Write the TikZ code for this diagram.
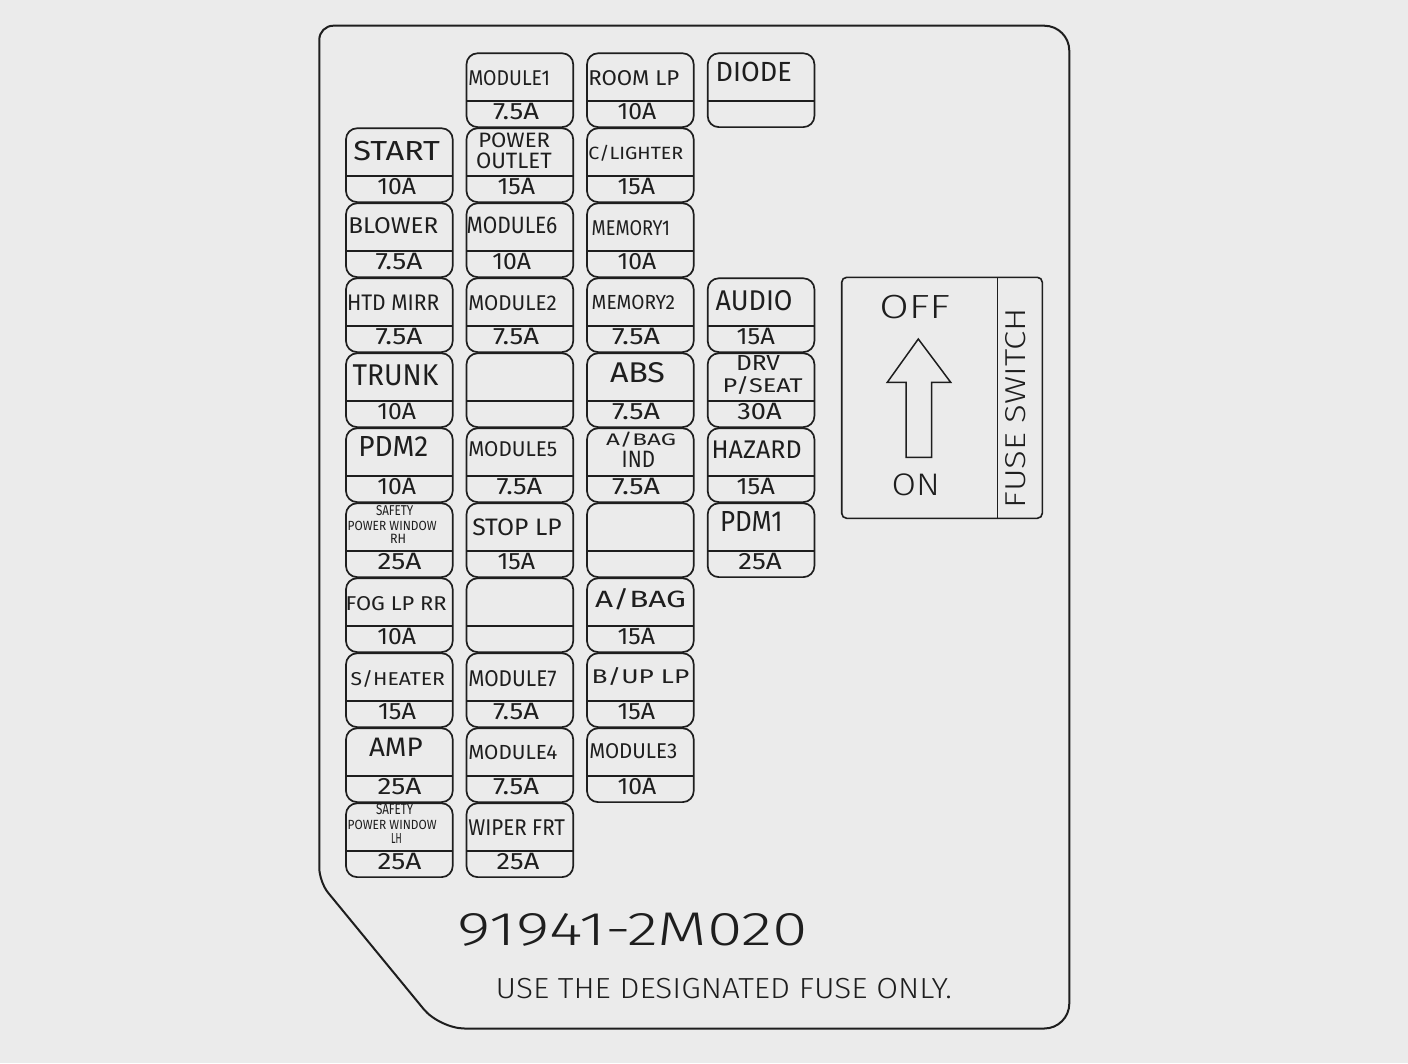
\documentclass[tikz,border=0pt]{standalone}
\usepackage{fontspec}
\usepackage{graphicx}
\IfFontExistsTF{Fira Sans Light}{\newfontfamily\bigfont{Fira Sans Light}}{\newfontfamily\bigfont{Liberation Sans}}
\IfFontExistsTF{Fira Sans}{\newfontfamily\labfont{Fira Sans}}{\newfontfamily\labfont{Liberation Sans}}
\definecolor{bg}{HTML}{EBEBEB}
\definecolor{ink}{HTML}{1E1E1E}
\tikzset{
  fusebox/.style={draw=ink, line width=1.7pt, rounded corners=11pt, minimum width=106.7pt, minimum height=73.8pt, inner sep=0pt, outer sep=0pt},
  divline/.style={draw=ink, line width=1.5pt},
  lbl/.style={inner sep=0pt, outer sep=0pt, anchor=base west, text=ink},
  panel/.style={draw=ink, line width=2pt},
  switchbox/.style={draw=ink, line width=1.6pt, rounded corners=5pt},
}
\newcommand\rz[3]{\resizebox{#1pt}{#2pt}{\raisebox{0pt}[\height][0pt]{\labfont #3}}}
\newcommand\rzb[3]{\resizebox{#1pt}{#2pt}{\raisebox{0pt}[\height][0pt]{\bigfont #3}}}
% name, xleft, xright, ytop, ybaseline, text
\newcommand\lab[6]{\node[lbl] (#1) at (#2,#5) {\rz{\fpeval{#3-#2}}{\fpeval{#5-#4}}{#6}};}
\newcommand\blab[6]{\node[lbl] (#1) at (#2,#5) {\rzb{\fpeval{#3-#2}}{\fpeval{#5-#4}}{#6}};}
% name, xleft, xright, rowtop, text
\newcommand\ampl[5]{\node[lbl] (#1) at (#2,#4+66.3) {\rz{\fpeval{#3-#2}}{16.3}{#5}};}
% name, xleft, rowtop
\newcommand\fuse[3]{\node[fusebox] (#1) at (#2+53.35,#3+36.9) {};
  \draw[divline] ([yshift=-47.5pt]#1.north west) -- ([yshift=-47.5pt]#1.north east);}
\begin{document}
\begin{tikzpicture}[x=1pt,y=-1pt]
\useasboundingbox (0,0) rectangle (1408,1063);
\fill[bg] (0,0) rectangle (1408,1063);
% panel outline
\draw[panel] (700,25.7) [rounded corners=25pt] -- (1069.3,25.7) -- (1069.3,1028.5) -- (439.6,1028.5)
  [rounded corners=14pt] -- (319.3,882) -- (319.3,25.7) [rounded corners=25pt] -- cycle;
% ---- fuse boxes ----
\def\Ca{346}\def\Cb{466.5}\def\Cc{587}\def\Cd{707.7}
\foreach \r/\t in {2/128.3,3/203.3,4/278.3,5/353.3,6/428.3,7/503.3,8/578.3,9/653.3,10/728.3,11/803.3}{\fuse{fa\r}{\Ca}{\t}}
\foreach \r/\t in {1/53.3,2/128.3,3/203.3,4/278.3,5/353.3,6/428.3,7/503.3,8/578.3,9/653.3,10/728.3,11/803.3}{\fuse{fb\r}{\Cb}{\t}}
\foreach \r/\t in {1/53.3,2/128.3,3/203.3,4/278.3,5/353.3,6/428.3,7/503.3,8/578.3,9/653.3,10/728.3}{\fuse{fc\r}{\Cc}{\t}}
\foreach \r/\t in {1/53.3,4/278.3,5/353.3,6/428.3,7/503.3}{\fuse{fd\r}{\Cd}{\t}}
% ---- column 1 labels ----
\lab{la2}{353.3}{440}{140.7}{160}{START}
\lab{la3}{348.3}{438.3}{217.3}{233.3}{BLOWER}
\lab{la4}{347}{439.3}{295}{310.5}{HTD MIRR}
\lab{la5}{352.7}{438.3}{364.3}{385}{TRUNK}
\lab{la6}{358.3}{428.3}{436.7}{456.7}{PDM2}
\lab{la7a}{376}{413.3}{505}{515}{SAFETY}
\lab{la7b}{347.7}{436.7}{520.7}{530}{POWER WINDOW}
\lab{la7c}{390}{406}{534}{543.3}{RH}
\lab{la8}{345.7}{446.7}{596}{610}{FOG LP RR}
\lab{la9}{350.7}{445}{670}{685}{S/HEATER}
\lab{la10}{369}{422.7}{738.3}{756.7}{AMP}
\lab{la11a}{376}{413.3}{803.3}{814}{SAFETY}
\lab{la11b}{347.7}{436.7}{820}{829.3}{POWER WINDOW}
\lab{la11c}{391}{401.7}{833.3}{843.3}{LH}
\ampl{aa2}{377.3}{416}{128.3}{10A}
\ampl{aa3}{375.5}{422.5}{203.3}{7.5A}
\ampl{aa4}{375.5}{422.5}{278.3}{7.5A}
\ampl{aa5}{377.3}{416}{353.3}{10A}
\ampl{aa6}{377.3}{416}{428.3}{10A}
\ampl{aa7}{377.5}{421.5}{503.3}{25A}
\ampl{aa8}{377.3}{416}{578.3}{10A}
\ampl{aa9}{378}{416}{653.3}{15A}
\ampl{aa10}{377.5}{421.5}{728.3}{25A}
\ampl{aa11}{377.5}{421.5}{803.3}{25A}
% ---- column 2 labels ----
\lab{lb1}{468.3}{550}{70}{85}{MODULE1}
\lab{lb2a}{478.3}{550}{132.7}{147.3}{POWER}
\lab{lb2b}{476}{551.7}{152.7}{168.3}{OUTLET}
\lab{lb3}{466.7}{557.3}{216.7}{233.3}{MODULE6}
\lab{lb4}{468.3}{556.7}{295}{310}{MODULE2}
\lab{lb6}{468.3}{557.3}{441.7}{456.7}{MODULE5}
\lab{lb7}{472.3}{561.7}{518.3}{535}{STOP LP}
\lab{lb9}{468.3}{556.7}{670}{686}{MODULE7}
\lab{lb10}{468.3}{557.3}{745}{759.3}{MODULE4}
\lab{lb11}{468.3}{565}{819.3}{835}{WIPER FRT}
\ampl{ab1}{493}{539}{53.3}{7.5A}
\ampl{ab2}{497.5}{535}{128.3}{15A}
\ampl{ab3}{492.3}{531}{203.3}{10A}
\ampl{ab4}{493}{539}{278.3}{7.5A}
\ampl{ab6}{496.7}{542.3}{428.3}{7.5A}
\ampl{ab7}{497.5}{535}{503.3}{15A}
\ampl{ab9}{493}{539}{653.3}{7.5A}
\ampl{ab10}{493}{539}{728.3}{7.5A}
\ampl{ab11}{496.7}{539.3}{803.3}{25A}
% ---- column 3 labels ----
\lab{lc1}{588.3}{679.3}{70}{85}{ROOM LP}
\lab{lc2}{588.3}{683.3}{145}{159.3}{C/LIGHTER}
\lab{lc3}{591.7}{670}{220}{235}{MEMORY1}
\lab{lc4}{591.7}{675}{295}{309.3}{MEMORY2}
\lab{lc5}{610}{665}{362.7}{382.7}{ABS}
\lab{lc6a}{606}{676}{431.5}{445}{A/BAG}
\lab{lc6b}{621.7}{655}{451}{467.3}{IND}
\lab{lc8}{595}{686}{588.3}{607.3}{A/BAG}
\lab{lc9}{591.7}{689.3}{667.3}{683.3}{B/UP LP}
\lab{lc10}{589.3}{677.3}{743.3}{758.3}{MODULE3}
\ampl{ac1}{617.7}{656.3}{53.3}{10A}
\ampl{ac2}{617.5}{655}{128.3}{15A}
\ampl{ac3}{617.7}{656.3}{203.3}{10A}
\ampl{ac4}{612}{660}{278.3}{7.5A}
\ampl{ac5}{612}{660}{353.3}{7.5A}
\ampl{ac6}{612}{660}{428.3}{7.5A}
\ampl{ac8}{617.5}{655}{578.3}{15A}
\ampl{ac9}{617.5}{655}{653.3}{15A}
\ampl{ac10}{617.7}{656.3}{728.3}{10A}
% ---- column 4 labels ----
\lab{ld1}{715.7}{791.7}{62.3}{81.7}{DIODE}
\lab{ld4}{715.7}{792.5}{290}{310}{AUDIO}
\lab{ld5a}{736}{780}{355}{370}{DRV}
\lab{ld5b}{722.7}{802.7}{376.7}{392.7}{P/SEAT}
\lab{ld6}{711.7}{801.7}{440.7}{458.3}{HAZARD}
\lab{ld7}{720}{782.7}{511.7}{531.7}{PDM1}
\ampl{ad4}{736.7}{775}{278.3}{15A}
\ampl{ad5}{737.3}{781.7}{353.3}{30A}
\ampl{ad6}{736.7}{775}{428.3}{15A}
\ampl{ad7}{738.3}{781.7}{503.3}{25A}
% ---- fuse switch ----
\draw[switchbox] (841.7,277.3) rectangle (1042.3,518.3);
\draw[divline] (997.7,277.3) -- (997.7,518.3);
\draw[ink, line width=1.5pt, line join=miter] (918.3,339) -- (950.7,382.3) -- (931.7,382.3) -- (931.7,457.3)
  -- (906,457.3) -- (906,382.3) -- (887.3,382.3) -- cycle;
\blab{off}{879.3}{950}{295}{318.3}{OFF}
\blab{on}{891.7}{940}{473.3}{495}{ON}
\node[lbl, rotate=90] (fsw) at (1025,508.3) {\rzb{200}{20}{FUSE SWITCH}};
% ---- bottom texts ----
\blab{partno}{457.6}{808}{912.6}{945}{91941-2M020}
\blab{note}{495.7}{951.8}{977.8}{998}{USE THE DESIGNATED FUSE ONLY.}
\end{tikzpicture}
\end{document}
